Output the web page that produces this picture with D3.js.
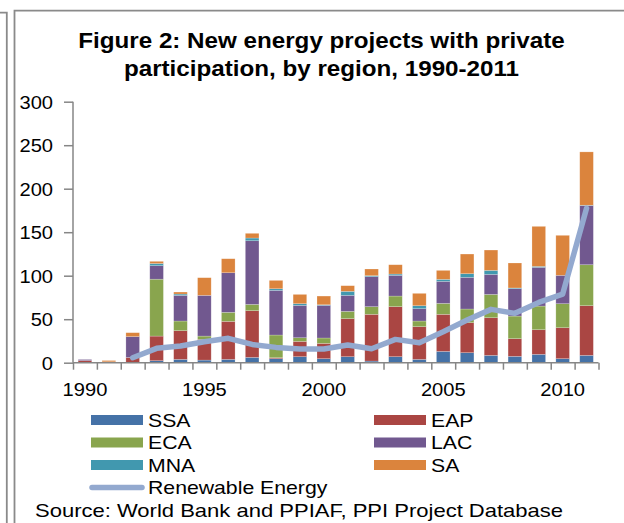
<!DOCTYPE html>
<html>
<head>
<meta charset="utf-8">
<script src="https://cdn.jsdelivr.net/npm/d3@7"></script>
<style>
  html, body { margin: 0; padding: 0; background: #fff; }
  svg { display: block; font-family: "Liberation Sans", Arial, sans-serif; }
</style>
</head>
<body>
<svg id="chart" width="624" height="523"></svg>
<script>
// ---- data ----
const years = ["1990","1991","1992","1993","1994","1995","1996","1997","1998","1999","2000",
               "2001","2002","2003","2004","2005","2006","2007","2008","2009","2010","2011"];
const SSA = [0, 0, 0, 2.3, 3.8, 3, 3.8, 6.1, 4.6, 6.9, 4.6, 6.9, 1.9, 6.9, 3.8, 13, 11.5, 8.4, 7.3, 9.6, 4.6, 8.4];
const EAP = [2.5, 1, 6, 28.3, 33, 23.8, 43.7, 53.7, 1.1, 17.6, 17.6, 43.7, 53.7, 57.5, 37.6, 42.6, 34.5, 43.3, 20.3, 28.3, 35.6, 57.1];
const ECA = [0, 0, 0, 65.4, 11.1, 3.8, 10.4, 7.2, 26.1, 4.2, 6.2, 8.4, 8.8, 12.2, 6.5, 12.6, 15.7, 26.8, 26, 27.2, 27.6, 47.1];
const LAC = [1.2, 0, 24, 15.5, 29.5, 46.8, 45.5, 73.2, 51.3, 37.2, 37.5, 18.4, 34.5, 23.8, 14.2, 25.3, 36.4, 23, 31.5, 44.5, 32.6, 67.9];
const MNA = [0, 0, 0, 2.5, 1.5, 0, 0, 3.1, 1.9, 1.9, 0.7, 4.6, 1.1, 1.5, 3.4, 2.3, 4.2, 4.6, 0.8, 1.1, 0, 0.5];
const SA  = [0, 1.5, 4.5, 2.5, 2.3, 20.3, 16.1, 5.4, 9.6, 10.7, 10, 6.5, 7.7, 10.7, 14.2, 10.3, 22.6, 23.4, 28.7, 46, 46, 61.3];
const renewable = [null, null, 5.7, 16.5, 19.2, 24, 28, 21, 17.6, 15.7, 15.7, 20.3, 16.1, 26.8, 23, 35.6, 49, 61.3, 56.7, 69.3, 78.9, 177.4];
const yTicks = [0, 50, 100, 150, 200, 250, 300];
const xLabels = ["1990", "1995", "2000", "2005", "2010"];
const seriesNames = ["SSA", "EAP", "ECA", "LAC", "MNA", "SA"];
const seriesValues = [SSA, EAP, ECA, LAC, MNA, SA];
const colors = ["#4572A7", "#AA4643", "#89A54E", "#71588F", "#4198AF", "#DB843D"];
const lineColor = "#93A9CF";
const titleLines = ["Figure 2: New energy projects with private", "participation, by region, 1990-2011"];
const sourceText = "Source: World Bank and PPIAF, PPI Project Database";

// ---- layout ----
const svg = d3.select("#chart");
const X0 = 73, X1 = 598.5, Y0 = 362.7, Y1 = 101.7;
const SX = 1.15; // horizontal stretch of text in the reference
const gray = "#868686";

const x = d3.scaleBand().domain(years).range([X0, X1]).paddingInner(0.43).paddingOuter(0.215);
const xLin = d3.scaleLinear().domain([0, years.length]).range([X0, X1]);
const y = d3.scaleLinear().domain([0, 300]).range([Y0, Y1]);

// frame lines
const frame = svg.append("g").attr("stroke", "#8a8a8a").attr("stroke-width", 1.8).attr("fill", "none");
frame.append("path").attr("d", "M0,12.6H6.8V523");
frame.append("path").attr("d", "M14.5,523V10.6H624");

// title
titleLines.forEach((t, i) => {
  svg.append("g").attr("transform", `translate(321.5,${48 + i * 28}) scale(1.1,1)`)
    .append("text").attr("text-anchor", "middle").attr("font-size", 22).attr("font-weight", "bold")
    .attr("fill", "#000").text(t);
});

// stacked data
const table = years.map((yr, i) => {
  const o = { year: yr };
  seriesNames.forEach((s, k) => o[s] = seriesValues[k][i]);
  return o;
});
const stack = d3.stack().keys(seriesNames)(table);

svg.append("g").selectAll("g").data(stack).join("g")
  .attr("fill", (d, i) => colors[i])
  .selectAll("rect").data(d => d).join("rect")
  .attr("x", d => x(d.data.year))
  .attr("width", x.bandwidth())
  .attr("y", d => y(d[1]))
  .attr("height", d => Math.max(0, y(d[0]) - y(d[1])))
  .attr("stroke", "#ffffff").attr("stroke-opacity", 0.35).attr("stroke-width", 0.6);

// y axis
const yAxis = svg.append("g").attr("transform", `translate(${X0},0)`)
  .call(d3.axisLeft(y).tickValues(yTicks).tickSize(9).tickPadding(9));
yAxis.select(".domain").attr("stroke", gray).attr("stroke-width", 1.5).attr("d", `M0,${Y1}V${Y0}`);
yAxis.selectAll(".tick line").attr("stroke", gray).attr("stroke-width", 1.5);
yAxis.selectAll(".tick text").attr("font-size", 17.5).attr("fill", "#000")
  .attr("font-family", "'Liberation Sans', Arial, sans-serif")
  .attr("dy", "0.38em")
  .attr("transform", `translate(-2,0) scale(${SX},1)`)
  .attr("x", -18 / SX);

// x axis tick marks at category boundaries
const xTickAxis = svg.append("g").attr("transform", `translate(0,${Y0})`)
  .call(d3.axisBottom(xLin).tickValues(d3.range(0, years.length + 1)).tickSize(7).tickFormat(""));
xTickAxis.select(".domain").attr("stroke", gray).attr("stroke-width", 1.5).attr("d", `M${X0},0H${X1}`);
xTickAxis.selectAll(".tick line").attr("stroke", gray).attr("stroke-width", 1.5);

// x labels
const xLabAxis = svg.append("g").attr("transform", `translate(0,${Y0})`)
  .call(d3.axisBottom(x).tickValues(xLabels).tickSize(0).tickPadding(21));
xLabAxis.select(".domain").remove();
xLabAxis.selectAll(".tick text").attr("font-size", 17.5).attr("fill", "#000")
  .attr("font-family", "'Liberation Sans', Arial, sans-serif")
  .attr("transform", `scale(${SX},1)`);

// renewable line
const line = d3.line()
  .defined(d => d != null)
  .x((d, i) => x(years[i]) + x.bandwidth() / 2)
  .y(d => y(d));
svg.append("path").datum(renewable)
  .attr("d", line)
  .attr("fill", "none").attr("stroke", lineColor).attr("stroke-width", 5.5)
  .attr("stroke-linejoin", "round").attr("stroke-linecap", "round");

// legend
const LSX = 1.18;
const legendCols = [91, 374];
const legendRows = [420, 442.5, 465];
seriesNames.forEach((s, k) => {
  const cx = legendCols[k % 2], cy = legendRows[Math.floor(k / 2)];
  svg.append("rect").attr("x", cx).attr("y", cy - 5).attr("width", 52).attr("height", 10).attr("fill", colors[k]);
  svg.append("g").attr("transform", `translate(${cx + 57},${cy + 6.5}) scale(${LSX},1)`)
    .append("text").attr("font-size", 18).attr("fill", "#000").text(s);
});
svg.append("line").attr("x1", 92).attr("x2", 142).attr("y1", 487.5).attr("y2", 487.5)
  .attr("stroke", lineColor).attr("stroke-width", 5.5).attr("stroke-linecap", "round");
svg.append("g").attr("transform", `translate(148,${487.5 + 6.5}) scale(${LSX},1)`)
  .append("text").attr("font-size", 18).attr("fill", "#000").text("Renewable Energy");

// source
svg.append("g").attr("transform", `translate(35,517) scale(1.19,1)`)
  .append("text").attr("font-size", 18.5).attr("fill", "#000").text(sourceText);
</script>
</body>
</html>
